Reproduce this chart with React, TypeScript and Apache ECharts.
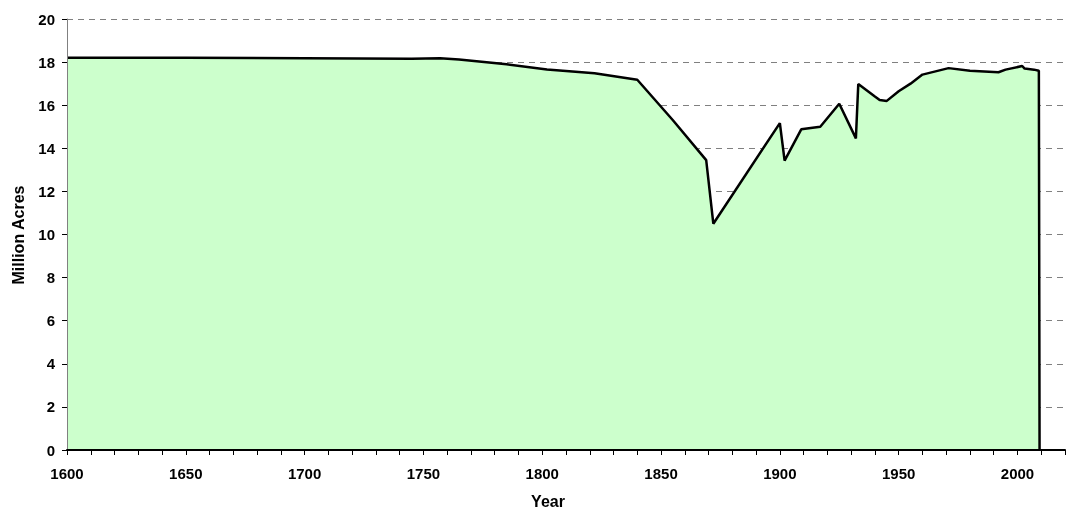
import React, { useEffect, useRef } from "react";
import * as echarts from "echarts";

const years: number[] = [
  1600, 1650, 1700, 1745, 1757, 1765, 1785, 1802, 1822, 1840, 1855, 1869, 1872,
  1900, 1902, 1909, 1917, 1925, 1932, 1933, 1940, 1942, 1945, 1950, 1955, 1960,
  1971, 1980, 1992, 1995, 2002, 2003, 2007, 2009, 2009.3,
];
const acres: number[] = [
  18.2, 18.2, 18.18, 18.16, 18.18, 18.12, 17.9, 17.66, 17.48, 17.18, 15.3, 13.45, 10.5,
  15.17, 13.43, 14.88, 15.0, 16.07, 14.46, 16.98, 16.4, 16.24, 16.2, 16.65, 17.0, 17.42,
  17.72, 17.6, 17.53, 17.65, 17.82, 17.7, 17.65, 17.6, 0,
];
const xLabelYears: number[] = [1600, 1650, 1700, 1750, 1800, 1850, 1900, 1950, 2000];
const yTicks: number[] = [0, 2, 4, 6, 8, 10, 12, 14, 16, 18, 20];

const FONT = "'Liberation Sans', Arial, sans-serif";

export default function App() {
  const ref = useRef<HTMLDivElement>(null);
  useEffect(() => {
    const chart = echarts.init(ref.current!, null, { renderer: "svg" });
    const data = years.map((y, i) => [y, acres[i]]);
    const xBase = {
      type: "value" as const,
      min: 1600,
      max: 2020,
      interval: 10,
    };
    const yBase = {
      type: "value" as const,
      min: yTicks[0],
      max: yTicks[yTicks.length - 1],
      interval: 2,
    };
    chart.setOption({
      animation: false,
      grid: { left: 67, right: -7, top: 19, bottom: 60, containLabel: false },
      xAxis: [
        {
          ...xBase,
          position: "bottom",
          z: 10,
          axisLine: { show: true, onZero: false, lineStyle: { color: "#000", width: 2 } },
          axisTick: { show: true, length: 5, lineStyle: { color: "#000", width: 1 } },
          splitLine: { show: false },
          axisLabel: {
            margin: 16,
            fontFamily: FONT,
            fontWeight: "bold",
            fontSize: 15,
            color: "#000",
            formatter: (v: number) => (xLabelYears.includes(v) ? String(v) : ""),
          },
        },
      ],
      yAxis: [
        {
          ...yBase,
          position: "left",
          z: 0,
          axisLine: { show: false },
          axisTick: { show: false },
          axisLabel: { show: false },
          splitLine: {
            show: true,
            lineStyle: { color: "#808080", width: 1, type: [6, 5] },
          },
        },
        {
          ...yBase,
          position: "left",
          z: 10,
          axisLine: { show: true, lineStyle: { color: "#808080", width: 1 } },
          axisTick: { show: true, length: 5, lineStyle: { color: "#000", width: 1 } },
          splitLine: { show: false },
          axisLabel: {
            margin: 12,
            fontFamily: FONT,
            fontWeight: "bold",
            fontSize: 15,
            color: "#000",
          },
        },
      ],
      series: [
        {
          type: "line",
          xAxisIndex: 0,
          yAxisIndex: 0,
          data,
          symbol: "none",
          lineStyle: { color: "#000", width: 2.5 },
          areaStyle: { color: "#CCFFCC", opacity: 1 },
          z: 2,
        },
      ],
      graphic: [
        {
          type: "text",
          x: 548,
          y: 501,
          style: {
            text: "Year",
            font: `bold 16px ${FONT}`,
            fill: "#000",
            textAlign: "center",
            textVerticalAlign: "middle",
          },
        },
        {
          type: "text",
          x: 18.5,
          y: 235,
          rotation: Math.PI / 2,
          style: {
            text: "Million Acres",
            font: `bold 16px ${FONT}`,
            fill: "#000",
            textAlign: "center",
            textVerticalAlign: "middle",
          },
        },
      ],
    });
    return () => chart.dispose();
  }, []);
  return (
    <div
      ref={ref}
      style={{ position: "fixed", left: 0, top: 0, width: 1068, height: 510 }}
    />
  );
}
